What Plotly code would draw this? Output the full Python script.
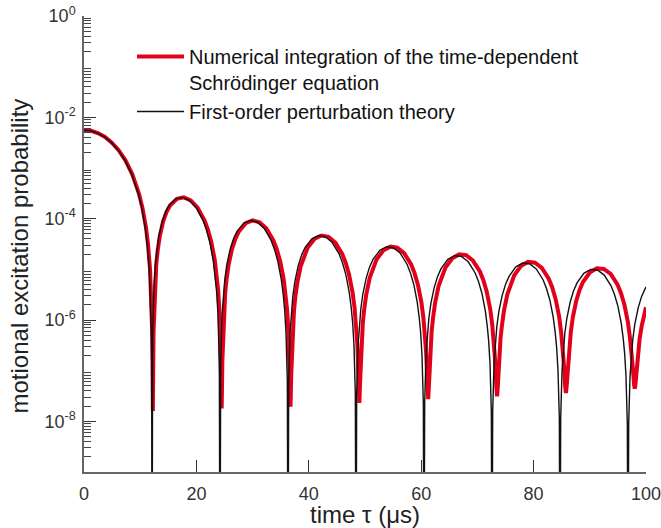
import plotly.graph_objects as go

# ---------------- data ----------------
# Numerical integration of the time-dependent Schroedinger equation (red)
tau_num = [
    0, 1.23, 2.45, 3.68, 4.9, 6.13, 7.35, 8.58, 9.8, 10.41, 11.03, 11.39, 11.76, 12.01, 12.13, 12.19, 12.25,
    12.37, 12.62, 12.86, 13.11, 13.48, 14.09, 14.70, 15.31, 16.54, 17.76, 18.99, 20.21, 21.44, 22.05, 22.66, 23.28, 23.64, 23.89, 24.13, 24.38, 24.5,
    24.62, 24.87, 25.11, 25.36, 25.73, 26.34, 26.95, 27.56, 28.79, 30.01, 31.24, 32.46, 33.69, 34.30, 34.91, 35.53, 35.89, 36.14, 36.38, 36.63, 36.75,
    36.87, 37.12, 37.36, 37.61, 37.98, 38.59, 39.20, 39.81, 41.04, 42.26, 43.49, 44.71, 45.94, 46.55, 47.16, 47.78, 48.14, 48.39, 48.63, 48.88, 49.0,
    49.12, 49.37, 49.61, 49.86, 50.23, 50.84, 51.45, 52.06, 53.29, 54.51, 55.74, 56.96, 58.19, 58.80, 59.41, 60.03, 60.39, 60.64, 60.88, 61.13, 61.25,
    61.37, 61.62, 61.86, 62.11, 62.48, 63.09, 63.70, 64.31, 65.54, 66.76, 67.99, 69.21, 70.44, 71.05, 71.66, 72.28, 72.64, 72.89, 73.13, 73.38, 73.5,
    73.62, 73.87, 74.11, 74.36, 74.73, 75.34, 75.95, 76.56, 77.79, 79.01, 80.24, 81.46, 82.69, 83.30, 83.91, 84.53, 84.89, 85.14, 85.38, 85.63, 85.75,
    85.87, 86.12, 86.36, 86.61, 86.98, 87.59, 88.20, 88.81, 90.04, 91.26, 92.49, 93.71, 94.94, 95.55, 96.16, 96.78, 97.14, 97.39, 97.63, 97.88, 98.0,
    98.12, 98.37, 98.61, 98.86, 99.23, 99.84, 100,
]
p_num = [
    5.6e-3, 5.42e-3, 4.90e-3, 4.13e-3, 3.21e-3, 2.27e-3, 1.43e-3, 7.58e-4, 3.06e-4, 1.62e-4, 6.69e-5, 3.12e-5, 9.67e-6, 2.33e-6, 5.87e-7, 1.57e-7, 1.6e-8,
    5.65e-7, 4.75e-6, 1.26e-5, 2.36e-5, 4.48e-5, 8.84e-5, 1.36e-4, 1.82e-4, 2.47e-4, 2.63e-4, 2.30e-4, 1.65e-4, 9.26e-5, 6.05e-5, 3.42e-5, 1.50e-5, 7.25e-6, 3.65e-6, 1.31e-6, 1.59e-7, 1.8e-8,
    1.57e-7, 1.24e-6, 3.30e-6, 6.30e-6, 1.23e-5, 2.53e-5, 4.05e-5, 5.60e-5, 8.16e-5, 9.22e-5, 8.51e-5, 6.41e-5, 3.75e-5, 2.50e-5, 1.44e-5, 6.44e-6, 3.15e-6, 1.60e-6, 5.89e-7, 8.21e-8, 1.95e-8,
    8.13e-8, 5.67e-7, 1.51e-6, 2.87e-6, 5.64e-6, 1.18e-5, 1.91e-5, 2.69e-5, 4.01e-5, 4.65e-5, 4.39e-5, 3.38e-5, 2.02e-5, 1.36e-5, 7.89e-6, 3.56e-6, 1.75e-6, 9.13e-7, 3.42e-7, 5.82e-8, 2.3e-8,
    5.78e-8, 3.32e-7, 8.70e-7, 1.63e-6, 3.22e-6, 6.79e-6, 1.11e-5, 1.57e-5, 2.38e-5, 2.80e-5, 2.67e-5, 2.08e-5, 1.26e-5, 8.51e-6, 4.97e-6, 2.26e-6, 1.11e-6, 5.94e-7, 2.31e-7, 5.0e-8, 2.75e-8,
    4.98e-8, 2.26e-7, 6.05e-7, 1.11e-6, 2.21e-6, 4.67e-6, 7.69e-6, 1.09e-5, 1.66e-5, 1.97e-5, 1.91e-5, 1.49e-5, 9.09e-6, 6.18e-6, 3.63e-6, 1.65e-6, 8.14e-7, 4.47e-7, 1.72e-7, 4.66e-8, 3.1e-8,
    4.65e-8, 1.69e-7, 4.29e-7, 7.70e-7, 1.53e-6, 3.24e-6, 5.36e-6, 7.62e-6, 1.18e-5, 1.40e-5, 1.35e-5, 1.07e-5, 6.54e-6, 4.45e-6, 2.61e-6, 1.19e-6, 5.90e-7, 3.38e-7, 1.39e-7, 4.75e-8, 3.6e-8,
    4.74e-8, 1.38e-7, 3.29e-7, 5.67e-7, 1.13e-6, 2.40e-6, 3.97e-6, 5.67e-6, 8.76e-6, 1.05e-5, 1.02e-5, 8.09e-6, 4.96e-6, 3.38e-6, 2.00e-6, 9.12e-7, 4.50e-7, 2.75e-7, 1.23e-7, 5.28e-8, 4.4e-8,
    5.27e-8, 1.22e-7, 2.4e-7, 4.2e-7, 7.6e-7, 1.6e-6, 1.78e-6,
]

# First-order perturbation theory (black)
tau_pt = [
    0, 1.21, 2.42, 3.63, 4.84, 6.05, 7.26, 8.47, 9.68, 10.29, 10.89, 11.25, 11.62, 11.86, 11.98, 12.04, 12.1,
    12.22, 12.46, 12.71, 12.95, 13.31, 13.92, 14.52, 15.13, 16.34, 17.55, 18.76, 19.97, 21.18, 21.78, 22.39, 22.99, 23.35, 23.60, 23.84, 24.08, 24.2,
    24.32, 24.56, 24.81, 25.05, 25.41, 26.02, 26.62, 27.23, 28.44, 29.65, 30.86, 32.07, 33.28, 33.88, 34.49, 35.09, 35.45, 35.70, 35.94, 36.18, 36.3,
    36.42, 36.66, 36.91, 37.15, 37.51, 38.12, 38.72, 39.33, 40.54, 41.75, 42.96, 44.17, 45.38, 45.98, 46.59, 47.19, 47.55, 47.80, 48.04, 48.28, 48.4,
    48.52, 48.76, 49.01, 49.25, 49.61, 50.22, 50.82, 51.43, 52.64, 53.85, 55.06, 56.27, 57.48, 58.08, 58.69, 59.29, 59.65, 59.90, 60.14, 60.38, 60.5,
    60.62, 60.86, 61.11, 61.35, 61.71, 62.32, 62.92, 63.53, 64.74, 65.95, 67.16, 68.37, 69.58, 70.18, 70.79, 71.39, 71.75, 72.00, 72.24, 72.48, 72.6,
    72.72, 72.96, 73.21, 73.45, 73.81, 74.42, 75.02, 75.63, 76.84, 78.05, 79.26, 80.47, 81.68, 82.28, 82.89, 83.49, 83.85, 84.10, 84.34, 84.58, 84.7,
    84.82, 85.06, 85.31, 85.55, 85.91, 86.52, 87.12, 87.73, 88.94, 90.15, 91.36, 92.57, 93.78, 94.38, 94.99, 95.59, 95.95, 96.20, 96.44, 96.68, 96.8,
    96.92, 97.16, 97.41, 97.65, 98.01, 98.62, 99.22, 99.83, 100,
]
p_pt = [
    5.6e-3, 5.42e-3, 4.90e-3, 4.13e-3, 3.21e-3, 2.27e-3, 1.43e-3, 7.58e-4, 3.06e-4, 1.62e-4, 6.69e-5, 3.12e-5, 9.67e-6, 2.33e-6, 5.71e-7, 1.41e-7, 1e-12,
    5.49e-7, 4.74e-6, 1.26e-5, 2.36e-5, 4.48e-5, 8.84e-5, 1.36e-4, 1.82e-4, 2.47e-4, 2.63e-4, 2.30e-4, 1.65e-4, 9.26e-5, 6.05e-5, 3.42e-5, 1.50e-5, 7.25e-6, 3.65e-6, 1.29e-6, 1.41e-7, 1e-12,
    1.39e-7, 1.22e-6, 3.30e-6, 6.30e-6, 1.23e-5, 2.53e-5, 4.05e-5, 5.60e-5, 8.16e-5, 9.22e-5, 8.51e-5, 6.41e-5, 3.75e-5, 2.50e-5, 1.44e-5, 6.44e-6, 3.15e-6, 1.60e-6, 5.70e-7, 6.26e-8, 1e-12,
    6.18e-8, 5.47e-7, 1.49e-6, 2.87e-6, 5.64e-6, 1.18e-5, 1.91e-5, 2.69e-5, 4.01e-5, 4.65e-5, 4.39e-5, 3.38e-5, 2.02e-5, 1.36e-5, 7.89e-6, 3.56e-6, 1.75e-6, 8.90e-7, 3.19e-7, 3.52e-8, 1e-12,
    3.48e-8, 3.09e-7, 8.47e-7, 1.63e-6, 3.22e-6, 6.79e-6, 1.11e-5, 1.57e-5, 2.38e-5, 2.80e-5, 2.67e-5, 2.08e-5, 1.26e-5, 8.51e-6, 4.97e-6, 2.26e-6, 1.11e-6, 5.67e-7, 2.03e-7, 2.25e-8, 1e-12,
    2.23e-8, 1.99e-7, 5.45e-7, 1.05e-6, 2.08e-6, 4.41e-6, 7.25e-6, 1.03e-5, 1.57e-5, 1.86e-5, 1.80e-5, 1.41e-5, 8.58e-6, 5.83e-6, 3.42e-6, 1.56e-6, 7.68e-7, 3.92e-7, 1.41e-7, 1.56e-8, 1e-12,
    1.55e-8, 1.38e-7, 3.79e-7, 7.33e-7, 1.46e-6, 3.09e-6, 5.10e-6, 7.26e-6, 1.12e-5, 1.33e-5, 1.29e-5, 1.02e-5, 6.23e-6, 4.24e-6, 2.49e-6, 1.14e-6, 5.62e-7, 2.88e-7, 1.03e-7, 1.15e-8, 1e-12,
    1.14e-8, 1.02e-7, 2.79e-7, 5.40e-7, 1.07e-6, 2.29e-6, 3.78e-6, 5.40e-6, 8.34e-6, 9.97e-6, 9.71e-6, 7.70e-6, 4.72e-6, 3.22e-6, 1.90e-6, 8.68e-7, 4.29e-7, 2.20e-7, 7.93e-8, 8.79e-9, 1e-12,
    8.73e-9, 7.79e-8, 2.14e-7, 4.15e-7, 8.26e-7, 1.76e-6, 2.92e-6, 4.17e-6, 4.52e-6,
]

name_num = "Numerical integration of the time-dependent<br>Schrödinger equation"
name_pt = "First-order perturbation theory"

x_ticks = [0, 20, 40, 60, 80, 100]
y_label_vals = [1e-8, 1e-6, 1e-4, 1e-2, 1e0]
y_labels = ["10<sup>-8</sup>", "10<sup>-6</sup>", "10<sup>-4</sup>", "10<sup>-2</sup>", "10<sup>0</sup>"]
y_odd_decades = [1e-9, 1e-7, 1e-5, 1e-3, 1e-1]
y_minor = [m * 10.0 ** e for e in range(-9, 0) for m in range(2, 10)]

FONT = "Liberation Sans, Arial, Helvetica, sans-serif"

fig = go.Figure()
fig.add_trace(go.Scatter(x=tau_num, y=p_num, mode="lines", name=name_num,
                         line=dict(color="#e3001b", width=4)))
fig.add_trace(go.Scatter(x=tau_pt, y=p_pt, mode="lines", name=name_pt,
                         line=dict(color="#111111", width=1.4)))

fig.update_layout(
    width=661, height=528,
    margin=dict(l=84, r=15, t=16, b=56, autoexpand=False),
    paper_bgcolor="white", plot_bgcolor="white",
    font=dict(family=FONT, color="#222222"),
    showlegend=True,
    legend=dict(x=0.0854, y=0.954, xanchor="left", yanchor="top",
                font=dict(size=20, color="#111111"), bgcolor="rgba(0,0,0,0)",
                itemwidth=47, valign="top"),
    annotations=[dict(text="motional excitation probability", textangle=-90,
                      xref="paper", yref="paper", x=-0.1139, y=0.4748,
                      xanchor="center", yanchor="middle", showarrow=False,
                      font=dict(size=24, color="#222222"))],
)
fig.update_xaxes(
    range=[0, 100], showgrid=False, zeroline=False, automargin=False,
    showline=True, linecolor="#666666", linewidth=1.5,
    tickmode="array", tickvals=x_ticks,
    ticks="inside", ticklen=12, tickwidth=1.3, tickcolor="#333333",
    tickfont=dict(size=18, color="#333333"), ticklabelstandoff=5,
    ticklabeloverflow="allow",
    title=dict(text="time τ (μs)", font=dict(size=24, color="#222222"), standoff=0),
)
fig.update_layout(
    yaxis=dict(
        type="log", range=[-9, 0], showgrid=False, zeroline=False, automargin=False,
        showline=True, linecolor="#666666", linewidth=1.5,
        tickmode="array", tickvals=y_label_vals, ticktext=y_labels,
        ticks="inside", ticklen=12, tickwidth=1.3, tickcolor="#333333",
        tickfont=dict(size=18, color="#333333"), ticklabelstandoff=3,
        minor=dict(tickmode="array", tickvals=y_minor, ticks="inside", ticklen=7,
                   tickwidth=1, tickcolor="#444444", showgrid=False),
    ),
    yaxis2=dict(
        type="log", range=[-9, 0], overlaying="y", anchor="x", side="left",
        showgrid=False, zeroline=False, showline=False, automargin=False,
        tickmode="array", tickvals=y_odd_decades, showticklabels=False,
        ticks="inside", ticklen=12, tickwidth=1.3, tickcolor="#333333",
    ),
)

fig.write_html("out.html")
